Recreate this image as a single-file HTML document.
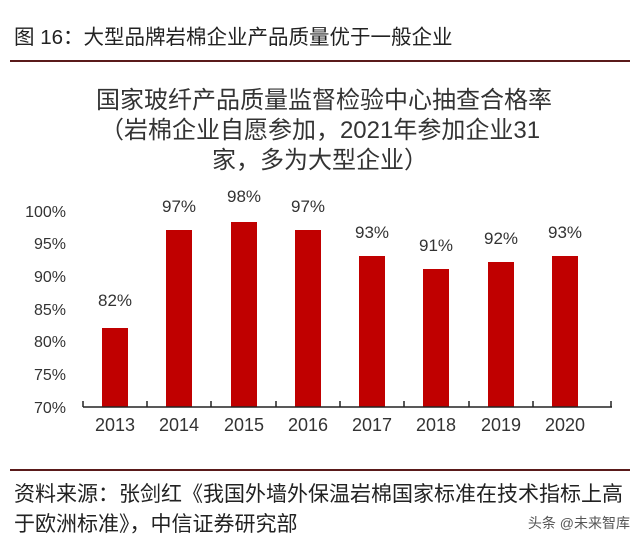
<!DOCTYPE html><html><head><meta charset="utf-8"><style>
body{margin:0;width:640px;height:545px;background:#fff;overflow:hidden;font-family:"Liberation Sans","Noto Sans CJK SC",sans-serif}
</style></head><body>
<svg width="640" height="545" xmlns="http://www.w3.org/2000/svg" font-family="Liberation Sans, Noto Sans CJK SC, sans-serif">
<text x="14" y="44" font-size="20.5" fill="#222">图 16：大型品牌岩棉企业产品质量优于一般企业</text>
<line x1="10" y1="61" x2="630" y2="61" stroke="#5a1a1a" stroke-width="2"/>
<g font-size="24" fill="#333" text-anchor="middle">
<text x="324" y="108">国家玻纤产品质量监督检验中心抽查合格率</text>
<text x="320" y="138">（岩棉企业自愿参加，2021年参加企业31</text>
<text x="320" y="168">家，多为大型企业）</text>
</g>
<g font-size="16" fill="#333" text-anchor="end">
<text x="66" y="217">100%</text><text x="66" y="249">95%</text><text x="66" y="282">90%</text><text x="66" y="315">85%</text><text x="66" y="347">80%</text><text x="66" y="380">75%</text><text x="66" y="413">70%</text>
</g>
<g fill="#c00000">
<rect x="102" y="328" width="26" height="79"/>
<rect x="166" y="230" width="26" height="177"/>
<rect x="231" y="222" width="26" height="185"/>
<rect x="295" y="230" width="26" height="177"/>
<rect x="359" y="256" width="26" height="151"/>
<rect x="423" y="269" width="26" height="138"/>
<rect x="488" y="262" width="26" height="145"/>
<rect x="552" y="256" width="26" height="151"/>
</g>
<g stroke="#222" stroke-width="1.5">
<line x1="83" y1="407" x2="612" y2="407"/>
<line x1="83" y1="407" x2="83" y2="401"/><line x1="147" y1="407" x2="147" y2="401"/><line x1="211" y1="407" x2="211" y2="401"/><line x1="276" y1="407" x2="276" y2="401"/><line x1="340" y1="407" x2="340" y2="401"/><line x1="404" y1="407" x2="404" y2="401"/><line x1="469" y1="407" x2="469" y2="401"/><line x1="533" y1="407" x2="533" y2="401"/><line x1="611" y1="407" x2="611" y2="401"/>
</g>
<g font-size="17" fill="#333" text-anchor="middle">
<text x="115" y="306">82%</text><text x="179" y="212">97%</text><text x="244" y="202">98%</text><text x="308" y="212">97%</text><text x="372" y="238">93%</text><text x="436" y="251">91%</text><text x="501" y="244">92%</text><text x="565" y="238">93%</text>
</g>
<g font-size="18" fill="#333" text-anchor="middle">
<text x="115" y="431">2013</text><text x="179" y="431">2014</text><text x="244" y="431">2015</text><text x="308" y="431">2016</text><text x="372" y="431">2017</text><text x="436" y="431">2018</text><text x="501" y="431">2019</text><text x="565" y="431">2020</text>
</g>
<line x1="10" y1="470" x2="630" y2="470" stroke="#5a1a1a" stroke-width="2"/>
<text x="14" y="501" font-size="21" fill="#222">资料来源：张剑红《我国外墙外保温岩棉国家标准在技术指标上高</text>
<text x="14" y="531" font-size="21" fill="#222">于欧洲标准》，中信证券研究部</text>
<text x="630" y="528" font-size="14" fill="#555" text-anchor="end">头条 @未来智库</text>
</svg>
</body></html>
